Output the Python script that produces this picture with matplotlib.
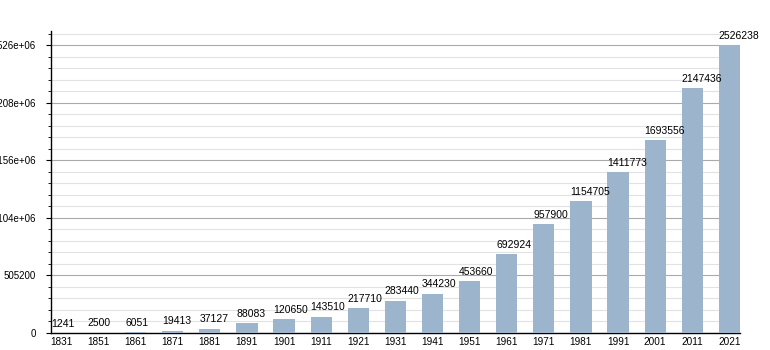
import numpy as np
import matplotlib
matplotlib.use("Agg")
from matplotlib import pyplot as plt
from matplotlib.ticker import MultipleLocator, FuncFormatter

years = ['1831', '1851', '1861', '1871', '1881', '1891', '1901', '1911', '1921', '1931',
         '1941', '1951', '1961', '1971', '1981', '1991', '2001', '2011', '2021']
population = [1241, 2500, 6051, 19413, 37127, 88083, 120650, 143510, 217710, 283440,
              344230, 453660, 692924, 957900, 1154705, 1411773, 1693556, 2147436, 2526238]

y_step = 505200

plt.rcParams['font.family'] = ['Liberation Sans', 'DejaVu Sans']

fig = plt.figure(figsize=(7.7, 3.5), dpi=100)
ax = fig.add_axes([0.066, 0.049, 0.895, 0.862])

x = np.arange(len(years))
w = 0.57
ax.bar(x, population, width=w, color='#9cb4cc', zorder=3)

# value label starts at the left edge of each bar
for xi, v in zip(x, population):
    ax.annotate(str(v), (xi - w / 2, v), xytext=(0, 3), textcoords='offset points',
                ha='left', va='bottom', fontsize=7.5, zorder=4, annotation_clip=False)

ax.set_xlim(-w / 2, len(years) - 1 + w / 2)
ax.set_ylim(0, 2.65e6)
ax.set_xticks(x)
ax.set_xticklabels(years)

ax.yaxis.set_major_locator(MultipleLocator(y_step))
ax.yaxis.set_minor_locator(MultipleLocator(y_step / 5))
ax.yaxis.set_major_formatter(FuncFormatter(lambda v, p: '%g' % v))

ax.grid(axis='y', which='major', color='#aaaaaa', linewidth=0.8, zorder=0)
ax.grid(axis='y', which='minor', color='#e2e2e2', linewidth=0.8, zorder=0)

for s in ['top', 'right']:
    ax.spines[s].set_visible(False)
ax.spines['left'].set_linewidth(1.0)
ax.spines['bottom'].set_linewidth(1.0)

ax.tick_params(axis='x', length=0, pad=3, labelsize=7.2)
ax.tick_params(axis='y', which='major', length=3.5, pad=7, labelsize=7)
ax.tick_params(axis='y', which='minor', length=2)

fig.savefig('out.png', dpi=100)
